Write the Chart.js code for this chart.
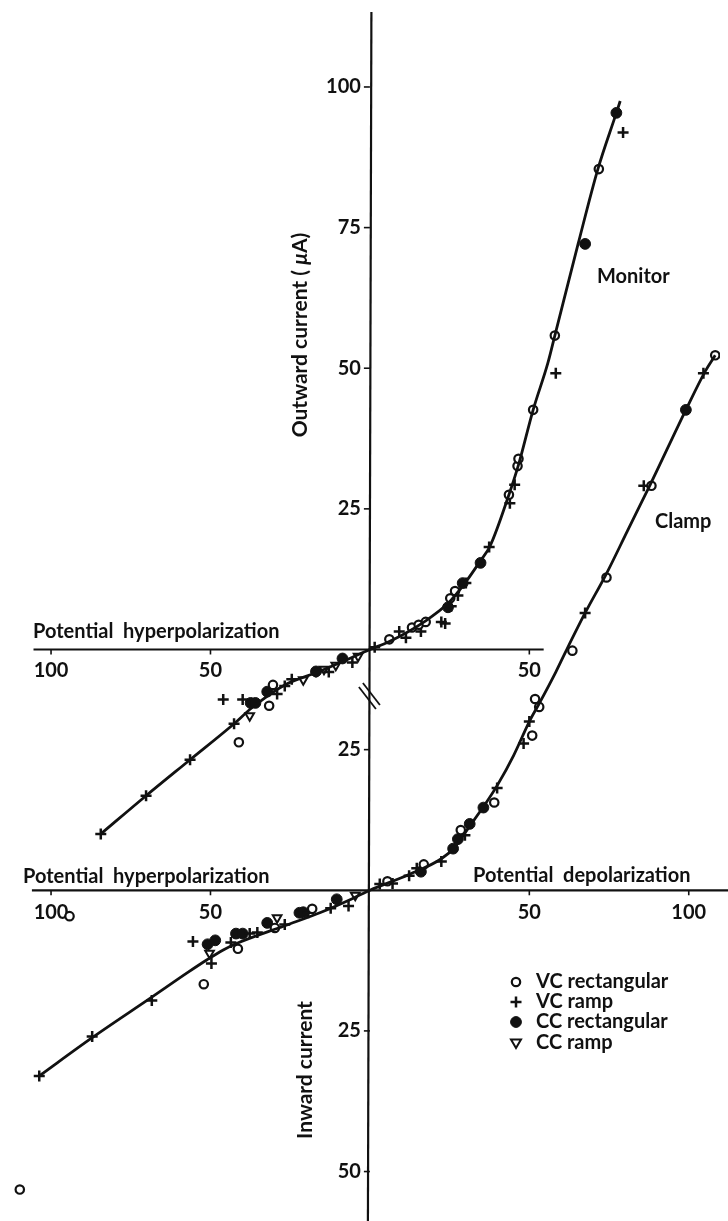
<!DOCTYPE html>
<html>
<head>
<meta charset="utf-8">
<script src="https://cdn.jsdelivr.net/npm/chart.js@4.4.1/dist/chart.umd.min.js"></script>
<style>
  html, body { margin: 0; padding: 0; background: #fff; }
  #wrap { width: 728px; height: 1221px; position: relative; }
</style>
</head>
<body>
<div id="wrap"><canvas id="ivChart"></canvas></div>
<script>
// potential in mV (negative = hyperpolarization), current in uA (negative = inward)
// "Monitor" relation, drawn on the upper pair of axes
const monitorCurve = [[-84.4,-32.8],[-70.2,-26.0],[-56.4,-19.6],[-42.6,-13.2],[-37.1,-10.4],[-26.7,-6.3],[-16.3,-4.0],[-8.3,-2.1],[0,0],[6.1,1.4],[17.5,5.1],[24.5,8.2],[29.8,11.8],[34.7,15.8],[37.7,18.4],[43.6,27.5],[46.6,32.8],[51.2,42.6],[55.8,50.9],[58.0,55.8],[65.3,72.1],[71.5,85.4],[77.3,95.4],[78.5,97.5]];
const monVcRect = [[-41.1,-16.5],[-31.6,-10.0],[-30.4,-6.3],[6.1,1.8],[13.2,3.9],[15.3,4.4],[17.5,4.9],[25.2,9.1],[26.7,10.4],[43.6,27.5],[46.3,32.6],[46.6,33.9],[51.2,42.6],[58.0,55.8],[71.8,85.4]];
const monVcRamp = [[-84.4,-32.8],[-70.2,-26.0],[-56.4,-19.6],[-42.6,-13.2],[-46.0,-8.9],[-39.9,-8.9],[-29.1,-7.9],[-26.7,-6.5],[-24.5,-5.3],[-16.9,-4.0],[-12.9,-4.0],[-5.5,-2.3],[1.5,0.4],[9.2,3.2],[11.3,2.1],[16.0,3.2],[22.4,4.9],[23.6,4.6],[25.5,7.7],[27.6,9.6],[30.1,11.8],[37.4,18.2],[43.9,26.0],[45.4,29.3],[58.3,49.1],[79.4,91.9]];
const monCcRect = [[-37.4,-9.5],[-35.9,-9.5],[-32.2,-7.5],[-16.9,-3.9],[-8.6,-1.6],[24.5,7.5],[29.1,11.8],[34.7,15.4],[67.5,72.1],[77.3,95.4]];
const monCcRamp = [[-37.7,-11.8],[-20.9,-5.4],[-14.4,-3.5],[-10.7,-2.8],[-3.7,-1.2]];

// "Clamp" relation, drawn on the lower pair of axes
const clampCurve = [[-103.7,-33.0],[-87.1,-26.2],[-68.4,-19.0],[-57.1,-14.6],[-51.2,-12.4],[-46.0,-10.6],[-42.0,-9.5],[-26.7,-6.3],[-15.3,-3.9],[-5.2,-1.4],[0,0],[12.3,2.8],[22.4,5.6],[26.7,7.7],[30.7,10.9],[35.9,15.1],[39.9,18.6],[45.1,24.0],[50.0,30.0],[53.1,33.2],[58.3,38.8],[61.3,42.3],[67.5,49.3],[74.2,56.3],[80.7,63.8],[88.0,72.2],[99.1,85.4],[105.2,92.3],[108.3,95.1]];
const clVcRect = [[-109.8,-53.2],[-94.2,-4.6],[-52.1,-16.7],[-41.4,-10.4],[-29.8,-6.7],[-18.1,-3.3],[5.5,1.6],[16.9,4.6],[28.5,10.7],[39.0,15.6],[50.9,27.5],[51.8,34.0],[53.1,32.6],[63.5,42.6],[74.2,55.6],[88.3,71.9],[108.3,95.1]];
const clVcRamp = [[-103.7,-33.0],[-87.1,-26.0],[-68.4,-19.6],[-55.5,-9.1],[-49.7,-13.0],[-43.6,-9.3],[-37.7,-7.7],[-35.3,-7.5],[-26.7,-6.1],[-19.3,-4.0],[-12.3,-3.2],[-6.7,-2.8],[3.1,1.1],[7.1,1.2],[12.3,2.6],[14.7,3.9],[22.4,5.1],[29.8,9.8],[39.9,18.2],[48.2,26.1],[50.0,30.0],[67.5,49.3],[85.9,71.9],[104.6,91.9]];
const clCcRect = [[-50.9,-9.6],[-48.5,-8.9],[-42.0,-7.7],[-39.9,-7.7],[-32.2,-5.8],[-22.1,-4.0],[-20.9,-3.9],[-10.4,-1.6],[16.0,3.3],[26.1,7.4],[27.6,9.1],[31.3,11.8],[35.6,14.7],[99.1,85.4]];
const clCcRamp = [[-50.3,-11.2],[-29.1,-4.9],[-4.6,-0.9]];

// axis ticks (labels printed without sign)
const potentialTicksTop = [-100, -50, 50];
const potentialTicksBottom = [-100, -50, 50, 100];
const currentTicksTop = [25, 50, 75, 100];
const currentTicksBottom = [25, -25, -50];

const legendItems = ['VC rectangular', 'VC ramp', 'CC rectangular', 'CC ramp'];

const FONT = 'Lato, "DejaVu Sans", sans-serif';
const toXY = arr => arr.map(p => ({ x: p[0], y: p[1] }));

const markerStyles = [
  { pointStyle: 'circle', pointRadius: 4.2, pointBorderWidth: 2.2, pointBackgroundColor: '#fff', pointRotation: 0 },
  { pointStyle: 'cross', pointRadius: 5.5, pointBorderWidth: 2.5, pointBackgroundColor: '#111', pointRotation: 0 },
  { pointStyle: 'circle', pointRadius: 5.4, pointBorderWidth: 1, pointBackgroundColor: '#111', pointRotation: 0 },
  { pointStyle: 'triangle', pointRadius: 5, pointBorderWidth: 2, pointBackgroundColor: '#fff', pointRotation: 180 }
];

function markerSet(label, data, style, yAxisID) {
  return Object.assign({
    type: 'scatter', label, data: toXY(data), yAxisID,
    pointBorderColor: '#111', showLine: false
  }, markerStyles[style]);
}

function curveSet(label, data, yAxisID) {
  return {
    type: 'line', label, data: toXY(data), yAxisID,
    borderColor: '#111', borderWidth: 2.8, pointRadius: 0,
    cubicInterpolationMode: 'monotone', fill: false
  };
}

function drawMarker(ctx, style, x, y) {
  const s = markerStyles[style];
  ctx.save();
  ctx.strokeStyle = '#111';
  ctx.fillStyle = s.pointBackgroundColor;
  ctx.lineWidth = s.pointBorderWidth;
  const r = s.pointRadius;
  ctx.beginPath();
  if (s.pointStyle === 'circle') {
    ctx.arc(x, y, r, 0, Math.PI * 2);
    ctx.fill(); ctx.stroke();
  } else if (s.pointStyle === 'cross') {
    ctx.moveTo(x - r, y); ctx.lineTo(x + r, y);
    ctx.moveTo(x, y - r); ctx.lineTo(x, y + r);
    ctx.stroke();
  } else {
    ctx.moveTo(x - r, y - r * 0.7); ctx.lineTo(x + r, y - r * 0.7); ctx.lineTo(x, y + r);
    ctx.closePath(); ctx.fill(); ctx.stroke();
  }
  ctx.restore();
}

const paperAxes = {
  id: 'paperAxes',
  beforeDatasetsDraw(chart) {
    const { ctx } = chart;
    const { x, yTop, yBot } = chart.scales;
    const x0 = x.getPixelForValue(0);
    const yT = yTop.getPixelForValue(0);
    const yB = yBot.getPixelForValue(0);
    ctx.save();
    ctx.strokeStyle = '#111';
    ctx.lineWidth = 2.2;
    ctx.lineCap = 'butt';
    const seg = (a, b, c, d) => { ctx.beginPath(); ctx.moveTo(a, b); ctx.lineTo(c, d); ctx.stroke(); };

    // vertical current axis
    seg(x0 + 1.5, 12, x0 - 2, chart.height);
    // horizontal potential axes
    seg(x.getPixelForValue(-105.5), yT, x.getPixelForValue(54.5), yT);
    seg(x.getPixelForValue(-106), yB, chart.width, yB);

    // break marks on the vertical axis
    ctx.lineWidth = 1.8;
    seg(x0 - 11, 687, x0 + 6, 709);
    seg(x0 - 7, 683, x0 + 10, 705);

    ctx.lineWidth = 1.6;
    ctx.fillStyle = '#111';
    ctx.font = 'bold 20px ' + FONT;
    ctx.textAlign = 'center';
    ctx.textBaseline = 'middle';
    potentialTicksTop.forEach(v => {
      const px = x.getPixelForValue(v);
      seg(px, yT, px, yT + 5);
      ctx.fillText(String(Math.abs(v)), px, yT + 21);
    });
    potentialTicksBottom.forEach(v => {
      const px = x.getPixelForValue(v);
      seg(px, yB, px, yB + 5);
      ctx.fillText(String(Math.abs(v)), px, yB + 22);
    });

    ctx.textAlign = 'right';
    currentTicksTop.forEach(v => {
      const py = yTop.getPixelForValue(v);
      seg(x0 - 6, py, x0, py);
      ctx.fillText(String(Math.abs(v)), x0 - 9, py);
    });
    currentTicksBottom.forEach(v => {
      const py = yBot.getPixelForValue(v);
      seg(x0 - 6, py, x0, py);
      ctx.fillText(String(Math.abs(v)), x0 - 9, py);
    });
    ctx.restore();
  },
  afterDraw(chart) {
    const { ctx } = chart;
    ctx.save();
    ctx.fillStyle = '#111';
    ctx.textBaseline = 'middle';
    ctx.textAlign = 'left';
    ctx.font = 'bold 20px ' + FONT;
    ctx.fillText('Potential  hyperpolarization', 33, 632);
    ctx.fillText('Potential  hyperpolarization', 23, 877);
    ctx.fillText('Potential  depolarization', 473, 876);

    ctx.font = 'bold 20px ' + FONT;
    ctx.fillText('Monitor', 597, 277);
    ctx.fillText('Clamp', 655, 522);

    // rotated current titles
    ctx.save();
    ctx.translate(300, 335);
    ctx.rotate(-Math.PI / 2);
    const a = 'Outward current ( ', mu = '\u03bc', b = 'A)';
    ctx.font = 'bold 21px ' + FONT;
    const wa = ctx.measureText(a).width, wb = ctx.measureText(b).width;
    ctx.font = 'italic bold 21px ' + FONT;
    const wm = ctx.measureText(mu).width;
    const sx = -(wa + wm + wb) / 2;
    ctx.font = 'bold 21px ' + FONT;
    ctx.fillText(a, sx, 0);
    ctx.font = 'italic bold 21px ' + FONT;
    ctx.fillText(mu, sx + wa, 0);
    ctx.font = 'bold 21px ' + FONT;
    ctx.fillText(b, sx + wa + wm, 0);
    ctx.restore();

    ctx.save();
    ctx.translate(305, 1070);
    ctx.rotate(-Math.PI / 2);
    ctx.textAlign = 'center';
    ctx.font = 'bold 21px ' + FONT;
    ctx.fillText('Inward current', 0, 0);
    ctx.restore();

    // legend
    ctx.font = 'bold 20px ' + FONT;
    const rows = [982, 1002, 1022, 1043];
    legendItems.forEach((t, i) => {
      drawMarker(ctx, i, 516, rows[i]);
      ctx.fillText(t, 536, rows[i]);
    });
    ctx.restore();
  }
};

new Chart(document.getElementById('ivChart'), {
  data: {
    datasets: [
      curveSet('Monitor', monitorCurve, 'yTop'),
      curveSet('Clamp', clampCurve, 'yBot'),
      markerSet('VC rectangular', monVcRect, 0, 'yTop'),
      markerSet('VC ramp', monVcRamp, 1, 'yTop'),
      markerSet('CC rectangular', monCcRect, 2, 'yTop'),
      markerSet('CC ramp', monCcRamp, 3, 'yTop'),
      markerSet('VC rectangular', clVcRect, 0, 'yBot'),
      markerSet('VC ramp', clVcRamp, 1, 'yBot'),
      markerSet('CC rectangular', clCcRect, 2, 'yBot'),
      markerSet('CC ramp', clCcRamp, 3, 'yBot')
    ]
  },
  options: {
    responsive: true,
    maintainAspectRatio: false,
    animation: false,
    layout: { padding: 0 },
    plugins: { legend: { display: false }, tooltip: { enabled: false } },
    scales: {
      x: { type: 'linear', display: false, min: -113.5, max: 109.8 },
      yTop: { type: 'linear', display: false, min: -100.18, max: 114.04 },
      yBot: { type: 'linear', display: false, min: -57.37, max: 156.84 }
    }
  },
  plugins: [paperAxes]
});
</script>
</body>
</html>
